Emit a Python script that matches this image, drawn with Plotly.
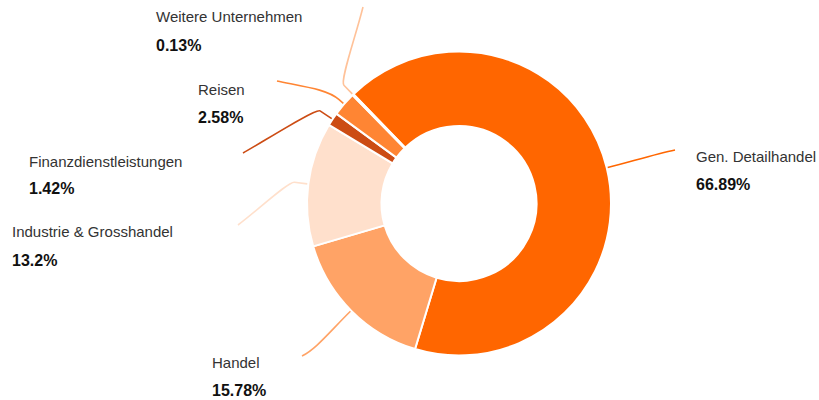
import math
import plotly.graph_objects as go

# ---- data ----
categories = ["Gen. Detailhandel", "Handel", "Industrie & Grosshandel",
              "Finanzdienstleistungen", "Reisen", "Weitere Unternehmen"]
values = [66.89, 15.78, 13.2, 1.42, 2.58, 0.13]
value_labels = ["66.89%", "15.78%", "13.2%", "1.42%", "2.58%", "0.13%"]

# ---- style ----
colors = ["#ff6600", "#ffa366", "#ffe0cc", "#cc4c14", "#ff8533", "#ffc299"]

W, H = 819, 400
CX, CY, R = 459.0, 203.5, 152.0
ROTATION = -44.0
HOLE = 0.51

# label layout: (label x, name y, value y, line end x, line end y, end dir x, end dir y, L, c1, c2)
label_layout = [
    (694, 156, 184, 675, 150, 0.98, -0.2, 0, 20, 20),
    (210, 362, 390, 302, 356, -0.9, 0.43, 0, 30, 15),
    (10, 232, 260, 238, 225, -0.8, 0.6, 13, 6, 25),
    (27, 161, 189, 243, 153, -0.87, 0.49, 14, 5, 25),
    (196, 89, 117, 277, 81, -0.98, -0.2, 6, 15, 30),
    (154, 17, 45, 363, 7, 0.24, -0.97, 12, 6, 30),
]


def px(x, y):
    return x / W, 1 - y / H


fig = go.Figure(go.Pie(
    labels=categories,
    values=values,
    hole=HOLE,
    sort=False,
    direction="clockwise",
    rotation=ROTATION,
    marker=dict(colors=colors, line=dict(color="white", width=2)),
    textinfo="none",
    hoverinfo="label+percent",
    showlegend=False,
    domain=dict(x=[(CX - R) / W, (CX + R) / W], y=[1 - (CY + R) / H, 1 - (CY - R) / H]),
))

total = sum(values)
shapes = []
annotations = []
start = ROTATION
for i, v in enumerate(values):
    span = v / total * 360.0
    mid = math.radians(start + span / 2)
    start += span
    ux, uy = math.sin(mid), -math.cos(mid)
    lx, ny, vy, ex, ey, dx, dy, L, c1, c2 = label_layout[i]
    dn = math.hypot(dx, dy)
    dx, dy = dx / dn, dy / dn
    p0 = (CX + (R + 1) * ux, CY + (R + 1) * uy)
    p1 = (p0[0] + L * ux, p0[1] + L * uy)
    k1 = (p1[0] + c1 * ux, p1[1] + c1 * uy)
    k2 = (ex - c2 * dx, ey - c2 * dy)
    pts = [px(*p) for p in (p0, p1, k1, k2, (ex, ey))]
    path = "M {:.5f},{:.5f} L {:.5f},{:.5f} C {:.5f},{:.5f} {:.5f},{:.5f} {:.5f},{:.5f}".format(
        *pts[0], *pts[1], *pts[2], *pts[3], *pts[4])
    shapes.append(dict(type="path", xref="paper", yref="paper", path=path,
                       line=dict(color=colors[i], width=1.6)))
    annotations.append(dict(xref="paper", yref="paper", x=lx / W, y=1 - ny / H,
                            xanchor="left", yanchor="middle", showarrow=False,
                            text=categories[i],
                            font=dict(family="Liberation Sans, Arial, sans-serif", size=15, color="#333333")))
    annotations.append(dict(xref="paper", yref="paper", x=lx / W, y=1 - vy / H,
                            xanchor="left", yanchor="middle", showarrow=False,
                            text="<b>" + value_labels[i] + "</b>",
                            font=dict(family="Liberation Sans, Arial, sans-serif", size=16, color="#111111")))

fig.update_layout(
    width=W, height=H,
    margin=dict(l=0, r=0, t=0, b=0),
    paper_bgcolor="white", plot_bgcolor="white",
    shapes=shapes, annotations=annotations,
    showlegend=False,
)

fig.write_html("out.html", config={"displayModeBar": False},
               post_script="document.body.style.margin='0';document.body.style.overflow='hidden';")
